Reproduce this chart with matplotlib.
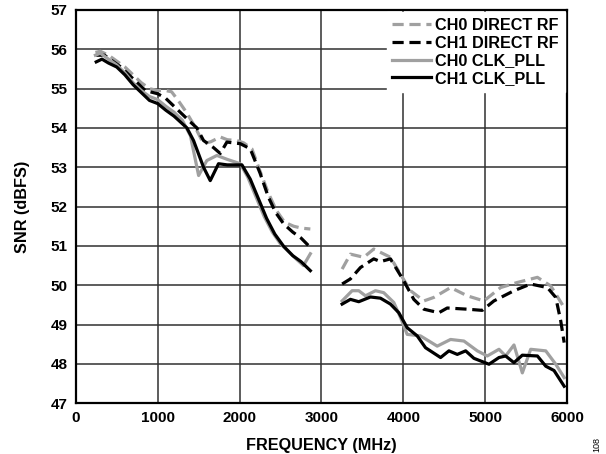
import numpy as np
import matplotlib.pyplot as plt

plt.rcParams["font.family"] = ["Liberation Sans", "DejaVu Sans"]
plt.rcParams["font.weight"] = "bold"

# CH0 DIRECT RF
ch0_rf_f1 = [240, 300, 400, 500, 600, 700, 800, 900, 1000, 1100, 1170, 1250, 1350, 1450, 1560,
             1650, 1764, 1850, 1968, 2050, 2150, 2250, 2350, 2450, 2550, 2660, 2760, 2864]
ch0_rf_v1 = [55.92, 55.95, 55.85, 55.7, 55.55, 55.35, 55.15, 55.0, 54.95, 54.95, 54.92, 54.7, 54.4,
             54.05, 53.6, 53.65, 53.77, 53.7, 53.68, 53.62, 53.47, 52.9, 52.35, 51.9, 51.6, 51.5,
             51.45, 51.43]
ch0_rf_f2 = [3252, 3353, 3516, 3638, 3842, 3964, 4087, 4250, 4372, 4576, 4780, 4983, 5187, 5391,
             5636, 5800, 5963]
ch0_rf_v2 = [50.41, 50.79, 50.71, 50.92, 50.71, 50.28, 49.86, 49.6, 49.69, 49.94, 49.73, 49.6,
             49.94, 50.07, 50.2, 49.98, 49.43]

# CH1 DIRECT RF
ch1_rf_f1 = [250, 350, 450, 550, 650, 750, 850, 1000, 1100, 1200, 1300, 1400, 1479, 1560, 1682,
             1764, 1845, 2008, 2130, 2250, 2350, 2440, 2538, 2650, 2750, 2864]
ch1_rf_v1 = [55.85, 55.85, 55.7, 55.55, 55.35, 55.15, 54.95, 54.87, 54.75, 54.55, 54.35, 54.15,
             54.0, 53.68, 53.5, 53.35, 53.64, 53.6, 53.47, 52.85, 52.25, 51.85, 51.56, 51.35, 51.2,
             50.96]
ch1_rf_f2 = [3252, 3353, 3476, 3638, 3720, 3842, 4005, 4127, 4250, 4433, 4535, 4780, 4963, 5105,
             5350, 5554, 5758, 5860, 5921, 5963]
ch1_rf_v2 = [50.03, 50.16, 50.45, 50.67, 50.6, 50.67, 50.11, 49.64, 49.39, 49.3, 49.42, 49.39,
             49.36, 49.6, 49.86, 50.03, 49.94, 49.69, 49.09, 48.54]

# CH0 CLK_PLL
ch0_pll_f1 = [240, 300, 400, 500, 600, 700, 800, 900, 1000, 1100, 1200, 1300, 1400, 1500, 1600,
              1723, 1850, 2008, 2100, 2200, 2300, 2400, 2500, 2600, 2700, 2780, 2864]
ch0_pll_v1 = [55.85, 55.9, 55.75, 55.6, 55.4, 55.15, 54.95, 54.8, 54.72, 54.55, 54.4, 54.2, 53.8,
              52.79, 53.17, 53.3, 53.2, 53.09, 52.75, 52.25, 51.75, 51.35, 51.05, 50.85, 50.65,
              50.5, 50.8]
ch0_pll_f2 = [3252, 3374, 3455, 3537, 3659, 3760, 3883, 3964, 4046, 4209, 4413, 4576, 4739, 4902,
              5024, 5167, 5248, 5350, 5452, 5554, 5738, 5860, 5963]
ch0_pll_v2 = [49.6, 49.86, 49.86, 49.73, 49.86, 49.81, 49.56, 49.18, 48.75, 48.71, 48.45, 48.62,
              48.58, 48.33, 48.2, 48.37, 48.2, 48.48, 47.77, 48.37, 48.33, 47.99, 47.65]

# CH1 CLK_PLL
ch1_pll_f1 = [250, 320, 400, 500, 600, 700, 800, 900, 1000, 1100, 1200, 1357, 1438, 1560, 1642,
              1743, 1850, 2029, 2130, 2230, 2330, 2430, 2538, 2650, 2750, 2864]
ch1_pll_v1 = [55.68, 55.75, 55.65, 55.55, 55.35, 55.1, 54.9, 54.7, 54.62, 54.45, 54.3, 54.0, 53.68,
              53.0, 52.66, 53.09, 53.06, 53.06, 52.7, 52.2, 51.7, 51.3, 50.99, 50.75, 50.6, 50.37]
ch1_pll_f2 = [3252, 3353, 3455, 3598, 3720, 3842, 3944, 4046, 4169, 4270, 4454, 4556, 4658, 4760,
              4861, 5045, 5167, 5248, 5350, 5452, 5636, 5738, 5839, 5963]
ch1_pll_v2 = [49.52, 49.64, 49.58, 49.7, 49.67, 49.52, 49.3, 48.92, 48.71, 48.41, 48.16, 48.33,
              48.24, 48.33, 48.14, 47.99, 48.16, 48.2, 48.03, 48.22, 48.2, 47.94, 47.83, 47.43]

gray = "#a0a0a0"
lw = 2.3
dash = (0, (3.5, 1.8))

fig = plt.figure(figsize=(6.06, 4.54), dpi=100)
ax = fig.add_axes([0.125, 0.112, 0.811, 0.866])

ax.plot(ch0_rf_f1, ch0_rf_v1, color=gray, lw=lw, ls=dash, label="CH0 DIRECT RF")
ax.plot(ch0_rf_f2, ch0_rf_v2, color=gray, lw=lw, ls=dash)
ax.plot(ch1_rf_f1, ch1_rf_v1, color="black", lw=lw, ls=dash, label="CH1 DIRECT RF")
ax.plot(ch1_rf_f2, ch1_rf_v2, color="black", lw=lw, ls=dash)
ax.plot(ch0_pll_f1, ch0_pll_v1, color=gray, lw=lw, label="CH0 CLK_PLL")
ax.plot(ch0_pll_f2, ch0_pll_v2, color=gray, lw=lw)
ax.plot(ch1_pll_f1, ch1_pll_v1, color="black", lw=lw, label="CH1 CLK_PLL")
ax.plot(ch1_pll_f2, ch1_pll_v2, color="black", lw=lw)

ax.set_xlim(0, 6000)
ax.set_ylim(47, 57)
ax.set_xticks(np.arange(0, 6001, 1000))
ax.set_yticks(np.arange(47, 58, 1))
ax.grid(True, color="#303030", lw=1.1)
ax.set_axisbelow(True)
ax.tick_params(length=0, labelsize=11, pad=6)
for lab in ax.get_xticklabels() + ax.get_yticklabels():
    lab.set_fontweight("bold")
for s in ax.spines.values():
    s.set_linewidth(1.6)

ax.set_xlabel("FREQUENCY (MHz)", fontsize=11.7, fontweight="bold", labelpad=9)
ax.set_ylabel("SNR (dBFS)", fontsize=11.7, fontweight="bold", labelpad=15)

leg = ax.legend(loc="upper right", frameon=True, fancybox=False, framealpha=1,
                edgecolor="white", fontsize=11.7, handlelength=2.35, handletextpad=0.3,
                labelspacing=0.16, borderaxespad=0.15, borderpad=0.35)
for t in leg.get_texts():
    t.set_fontweight("bold")

fig.text(0.985, 0.004, "108", rotation=90, fontsize=6.5, fontweight="normal", ha="center", va="bottom")

fig.savefig("out.png", dpi=100)
